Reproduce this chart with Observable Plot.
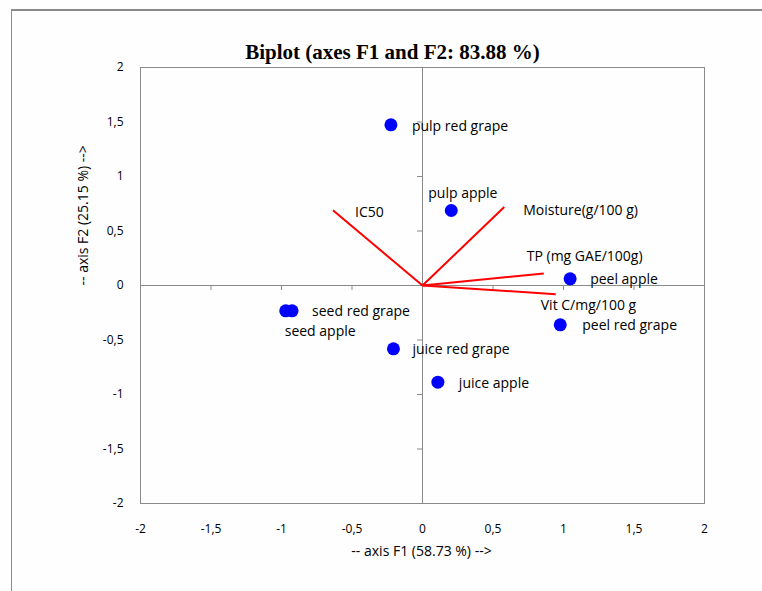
<!DOCTYPE html>
<html>
<head>
<meta charset="utf-8">
<script src="https://cdn.jsdelivr.net/npm/d3@7"></script>
<script src="https://cdn.jsdelivr.net/npm/@observablehq/plot@0.6"></script>
<style>
  html, body { margin: 0; padding: 0; background: #fefefe; }
  #wrap { position: relative; width: 762px; height: 591px; overflow: hidden; }
  #border { position: absolute; left: 11px; top: 9px; width: 760px; height: 590px;
            border-top: 2px solid #8a8a8a; border-left: 1px solid #8a8a8a; box-sizing: border-box; }
  #chart { position: absolute; left: 0; top: 0; }
</style>
</head>
<body>
<div id="wrap"><div id="border"></div><div id="chart"></div></div>
<script>
// Observations (F1, F2 scores)
const obsNames = ["pulp red grape", "pulp apple", "peel apple", "peel red grape", "seed red grape", "seed apple", "juice red grape", "juice apple"];
const obsF1 = [-0.224, 0.204, 1.047, 0.977, -0.925, -0.97, -0.206, 0.109];
const obsF2 = [1.474, 0.688, 0.061, -0.361, -0.232, -0.232, -0.581, -0.887];

// Variables (loadings)
const varNames = ["IC50", "Moisture(g/100 g)", "TP (mg GAE/100g)", "Vit C/mg/100 g"];
const varF1 = [-0.635, 0.58, 0.86, 0.945];
const varF2 = [0.69, 0.72, 0.11, -0.08];

// Axis ticks
const ticks = [-2, -1.5, -1, -0.5, 0, 0.5, 1, 1.5, 2];

const titleText = "Biplot (axes F1 and F2: 83.88 %)";
const xTitle = "-- axis F1 (58.73 %) -->";
const yTitle = "-- axis F2 (25.15 %) -->";

// label offsets (pixels) relative to the point / arrow tip
const obsLabelOffset = [[21, 2], [-23, -17], [20, 1], [22, 1], [20, 1], [-1, 21], [19, 1], [21, 1]];
const varLabelOffset = [[22, 2], [19, 3], [-17, -17], [-15, 11]];

const obs = obsNames.map((name, i) => ({name, x: obsF1[i], y: obsF2[i], dx: obsLabelOffset[i][0], dy: obsLabelOffset[i][1]}));
const vars = varNames.map((name, i) => ({name, x: varF1[i], y: varF2[i], dx: varLabelOffset[i][0], dy: varLabelOffset[i][1]}));

const fmt = d => String(d).replace(".", ",");
const labelFont = "'Open Sans', sans-serif";

const marks = [
  Plot.frame({stroke: "#8a8a8a"}),
  Plot.ruleX([0], {stroke: "#8a8a8a"}),
  Plot.ruleY([0], {stroke: "#8a8a8a"}),
  // small ticks on the zero lines
  Plot.ruleX(ticks, {x: d => d, y1: 0, y2: 0, insetBottom: -5, stroke: "#8a8a8a"}),
  Plot.ruleY(ticks, {y: d => d, x1: 0, x2: 0, insetLeft: -5, stroke: "#8a8a8a"}),
  Plot.axisX({ticks, tickFormat: fmt, tickSize: 0, tickPadding: 21, fontSize: 12, fill: "#000", label: null}),
  Plot.axisY({ticks, tickFormat: fmt, tickSize: 0, tickPadding: 17, fontSize: 12, fill: "#000", label: null}),
  // loading vectors
  Plot.link(vars, {x1: 0, y1: 0, x2: "x", y2: "y", stroke: "#ff0000", strokeWidth: 2}),
  // observations
  Plot.dot(obs, {x: "x", y: "y", r: 6.5, fill: "#0000ff", stroke: "none"}),
];
obs.forEach(o => marks.push(Plot.text([o], {x: "x", y: "y", text: "name", textAnchor: "start", dx: o.dx, dy: o.dy, fontSize: 14, fill: "#000"})));
vars.forEach(v => marks.push(Plot.text([v], {x: "x", y: "y", text: "name", textAnchor: "start", dx: v.dx, dy: v.dy, fontSize: 14, fill: "#000"})));
marks.push(
  Plot.text([titleText], {frameAnchor: "top", dx: -30, dy: -23, fontSize: 21, fontWeight: "bold", fontFamily: "'Liberation Serif', 'Times New Roman', serif", fill: "#000"}),
  Plot.text([xTitle], {frameAnchor: "bottom", dx: -1, dy: 52, fontSize: 14, fill: "#000"}),
  Plot.text([yTitle], {frameAnchor: "left", dx: -57, rotate: -90, fontSize: 14, fill: "#000"})
);

const chart = Plot.plot({
  width: 762,
  height: 591,
  marginLeft: 140,
  marginRight: 58,
  marginTop: 67,
  marginBottom: 88,
  x: {domain: [-2, 2], label: null},
  y: {domain: [-2, 2], label: null},
  style: {fontFamily: labelFont, background: "transparent", color: "#000", overflow: "visible"},
  marks
});
document.getElementById("chart").appendChild(chart);
</script>
</body>
</html>
